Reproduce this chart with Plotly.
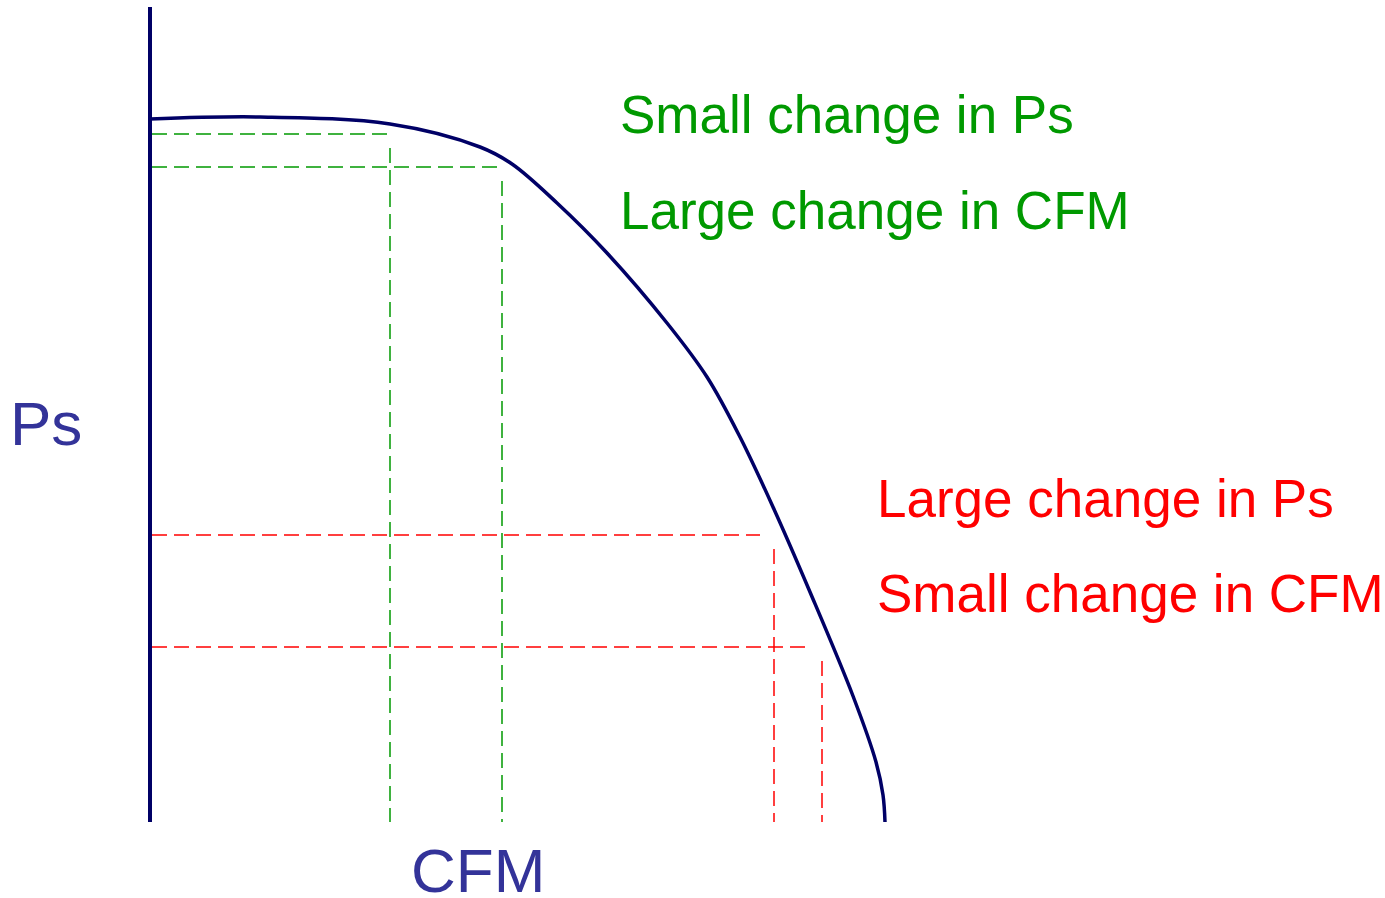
import plotly.graph_objects as go

# fan curve (CFM vs static pressure), arbitrary units
curve_cfm = [0, 110, 240, 330, 362, 407, 457, 517, 557, 590, 623, 660, 703, 726, 733, 735]
curve_ps = [703, 705, 698, 675, 658, 619, 569, 499, 445, 385, 315, 230, 126, 60, 27, 0]

# operating points: flat region (green) and steep region (red)
green_cfm = [240, 352]
green_ps = [688, 655]
red_cfm = [624, 672]
red_ps = [287, 175]

axis_top = 815
gap = 14

navy = "#000066"
green = "#009900"
red = "#ff0000"
label_col = "#333399"

fig = go.Figure()

# vertical axis
fig.add_trace(go.Scatter(x=[0, 0], y=[0, axis_top], mode="lines",
                         line=dict(color=navy, width=4), hoverinfo="skip"))

def guides(cfm, ps, color, short):
    for c, p in zip(cfm, ps):
        fig.add_trace(go.Scatter(x=[2, c - short], y=[p, p], mode="lines",
                                 line=dict(color=color, width=1.5, dash="15px,7px"),
                                 hoverinfo="skip"))
        fig.add_trace(go.Scatter(x=[c, c], y=[p - gap, 0], mode="lines",
                                 line=dict(color=color, width=1.5, dash="15px,7px"),
                                 hoverinfo="skip"))

guides(green_cfm, green_ps, green, 0)
guides(red_cfm, red_ps, red, gap)

# fan curve
fig.add_trace(go.Scatter(x=curve_cfm, y=curve_ps, mode="lines",
                         line=dict(color=navy, width=3.5, shape="spline", smoothing=1)))

font = "Liberation Sans, Arial, sans-serif"
texts = [
    ("Small change in Ps", 468, 708, green, 53),
    ("Large change in CFM", 468, 612, green, 53),
    ("Large change in Ps", 725, 324, red, 53),
    ("Small change in CFM", 725, 229, red, 53),
]
for t, x, y, c, s in texts:
    fig.add_annotation(x=x, y=y, text=t, showarrow=False, xanchor="left",
                       yanchor="middle", font=dict(color=c, size=s, family=font))

fig.add_annotation(x=-104, y=399, text="Ps", showarrow=False, xanchor="center",
                   yanchor="middle", font=dict(color=label_col, size=62, family=font))
fig.add_annotation(x=328, y=-48, text="CFM", showarrow=False, xanchor="center",
                   yanchor="middle", font=dict(color=label_col, size=62, family=font))

fig.update_layout(
    width=1385, height=898,
    margin=dict(l=0, r=0, t=0, b=0),
    plot_bgcolor="white", paper_bgcolor="white",
    showlegend=False,
    xaxis=dict(range=[-150, 1235], visible=False),
    yaxis=dict(range=[-76, 822], visible=False),
)

# drop the default page margin so the figure fills the window
fig.write_html("out.html", config={"displayModeBar": False},
               post_script="document.body.style.margin='0';document.body.style.overflow='hidden';")
